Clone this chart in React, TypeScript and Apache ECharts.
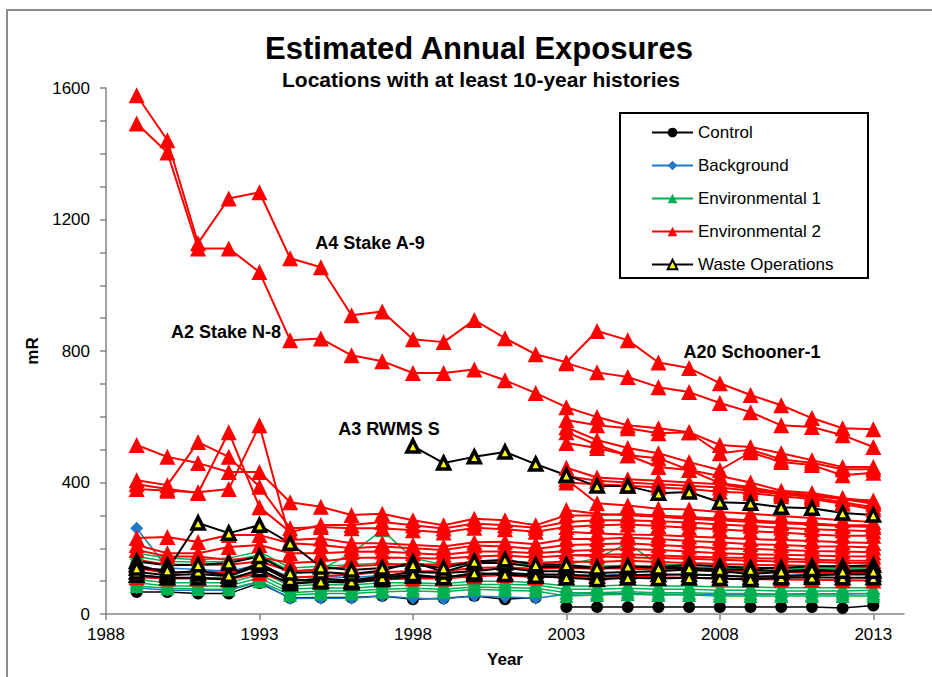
import React, { useEffect, useRef } from "react";
import * as echarts from "echarts";

// ---------- axis categories / ticks ----------
const years = [
  "1988", "1989", "1990", "1991", "1992", "1993", "1994", "1995", "1996",
  "1997", "1998", "1999", "2000", "2001", "2002", "2003", "2004", "2005",
  "2006", "2007", "2008", "2009", "2010", "2011", "2012", "2013", "2014",
];
const yMax = 1600;
const yStep = 400;

// ---------- Control (start year, values) ----------
const control1 = { start: 1989, v: [67, 67, 62, 62, 94, 49, 50, 50, 55, 45, 48, 55, 45, 50] };
const control2 = { start: 2003, v: [21, 21, 21, 21, 21, 21, 21, 21, 21, 18, 26] };

// ---------- Background ----------
const background1 = { start: 1989, v: [261, 140, 135, 130, 150, 112, 115, 110, 118, 112, 112, 122, 120, 118, 118, 118, 120, 118, 120, 118, 115, 118, 120, 122, 122] };
const background2 = { start: 1989, v: [80, 72, 72, 72, 98, 47, 48, 48, 55, 48, 46, 55, 52, 48, 60, 62, 62, 60, 60, 58, 60, 60, 62, 60, 62] };

// ---------- Environmental 1 ----------
const env1a = { start: 1989, v: [120, 110, 110, 110, 130, 85, 90, 88, 95, 95, 92, 100, 100, 95, 85, 85, 88, 85, 85, 82, 82, 80, 80, 80, 80] };
const env1b = { start: 1989, v: [105, 95, 95, 95, 120, 75, 80, 78, 85, 88, 85, 90, 90, 88, 75, 75, 78, 75, 75, 72, 72, 70, 70, 70, 72] };
const env1c = { start: 1989, v: [95, 85, 85, 85, 110, 65, 70, 70, 75, 78, 75, 82, 80, 78, 65, 65, 68, 65, 65, 62, 62, 60, 60, 62, 62] };
const env1d = { start: 1989, v: [85, 78, 76, 75, 100, 58, 62, 62, 68, 70, 68, 75, 72, 70, 55, 58, 60, 58, 58, 55, 55, 55, 55, 55, 55] };
const env1e = { start: 1989, v: [175, 160, 158, 160, 180, 130, 135, 185, 255, 170, 150, 160, 160, 155, 150, 170, 215, 150, 150, 145, 142, 140, 140, 140, 140] };
const env1f = { start: 1989, v: [185, 170, 165, 170, 190, 140, 145, 150, 155, 148, 145, 155, 155, 150, 145, 145, 148, 145, 142, 140, 138, 138, 136, 136, 135] };

// ---------- Environmental 2 ----------
const a4StakeA9 = { start: 1989, v: [1578, 1441, 1128, 1264, 1283, 1082, 1055, 909, 920, 836, 827, 894, 839, 790, 766, 861, 833, 765, 748, 702, 666, 635, 596, 565, 562] };
const a2StakeN8 = { start: 1989, v: [1492, 1404, 1112, 1112, 1040, 833, 838, 787, 769, 733, 733, 744, 711, 672, 629, 599, 574, 565, 553, 514, 508, 489, 468, 447, 447] };
const a20Schooner1 = { start: 2003, v: [763, 735, 721, 690, 675, 642, 614, 574, 569, 544, 508] };
const env2r5 = { start: 2003, v: [590, 574, 565, 550, 553, 489, 500, 470, 460, 440, 440] };
const env2r6 = { start: 2003, v: [568, 529, 505, 489, 462, 438, 492, 462, 453, 422, 430] };
const env2r7 = { start: 2003, v: [553, 514, 483, 474, 438, 398, 386, 368, 360, 350, 345] };
const env2r8 = { start: 2003, v: [520, 505, 483, 447, 438, 420, 400, 375, 368, 353, 340] };
const env2r9 = { start: 2003, v: [445, 415, 410, 405, 400, 395, 380, 370, 362, 350, 335] };
const env2r10 = { start: 2003, v: [420, 405, 400, 395, 390, 385, 375, 365, 355, 340, 325] };
const env2r11 = { start: 2003, v: [410, 337, 330, 320, 318, 310, 305, 298, 292, 285, 280] };
const env2r12 = { start: 2003, v: [400, 395, 390, 385, 380, 372, 368, 358, 350, 335, 318] };
const env2b1 = { start: 1989, v: [514, 478, 459, 432, 432, 340, 326, 301, 305, 285, 270, 290, 285, 270, 300, 300, 305, 300, 295, 290, 285, 280, 275, 270, 270] };
const env2b2 = { start: 1989, v: [407, 392, 523, 478, 387, 261, 265, 261, 261, 255, 248, 262, 258, 250, 265, 270, 272, 268, 262, 258, 252, 248, 242, 238, 238] };
const env2b3 = { start: 1989, v: [395, 380, 368, 553, 325, 249, 271, 271, 280, 270, 260, 275, 270, 262, 280, 285, 285, 282, 278, 272, 268, 262, 258, 255, 252] };
const env2b4 = { start: 1989, v: [380, 375, 370, 380, 574, 225, 230, 215, 215, 210, 205, 218, 220, 212, 228, 228, 232, 228, 222, 218, 212, 210, 206, 205, 202] };
const env2b5 = { start: 1989, v: [231, 234, 219, 240, 240, 215, 210, 200, 205, 200, 195, 208, 205, 198, 210, 212, 215, 210, 205, 200, 198, 195, 192, 190, 188] };
const env2b6 = { start: 1989, v: [210, 185, 185, 204, 210, 185, 185, 189, 190, 185, 180, 190, 190, 185, 192, 195, 198, 195, 190, 185, 182, 180, 178, 176, 175] };
const env2b7 = { start: 1989, v: [195, 175, 175, 164, 173, 155, 160, 170, 172, 170, 168, 175, 178, 172, 178, 180, 182, 178, 175, 172, 170, 168, 165, 163, 162] };
const env2b8 = { start: 1989, v: [165, 150, 150, 150, 160, 130, 135, 145, 150, 152, 150, 158, 160, 155, 160, 158, 162, 158, 155, 152, 150, 148, 146, 144, 143] };
const env2b9 = { start: 1989, v: [140, 125, 130, 125, 145, 110, 115, 120, 128, 130, 130, 140, 142, 138, 140, 138, 142, 140, 136, 134, 132, 130, 128, 126, 125] };
const env2b10 = { start: 1989, v: [112, 108, 108, 105, 125, 95, 98, 98, 105, 108, 108, 115, 118, 112, 115, 112, 115, 112, 110, 108, 106, 105, 104, 103, 102] };
const env2c1 = { start: 2003, v: [316, 305, 300, 296, 290, 285, 280, 276, 272, 268, 265] };
const env2c2 = { start: 2003, v: [250, 245, 242, 240, 236, 232, 228, 225, 222, 218, 216] };
const env2c3 = { start: 2003, v: [180, 176, 172, 170, 168, 165, 162, 160, 158, 156, 155] };
const env2c4 = { start: 2003, v: [143, 140, 138, 135, 133, 130, 130, 128, 125, 125, 123] };

// ---------- Waste Operations ----------
const waste1 = { start: 1989, v: [140, 134, 277, 246, 270, 215, 143, 134, 140, 150, 140, 160, 165, 150, 150, 140, 145, 140, 140, 135, 135, 130, 135, 130, 130] };
const a3RwmsS = { start: 1998, v: [511, 459, 478, 493, 456, 422, 389, 389, 367, 371, 340, 337, 325, 322, 307, 301] };
const waste2 = { start: 1989, v: [160, 148, 150, 155, 175, 125, 128, 122, 132, 158, 128, 155, 155, 143, 143, 140, 143, 143, 149, 145, 140, 140, 145, 145, 148] };
const waste3 = { start: 1989, v: [128, 118, 122, 115, 148, 100, 108, 102, 115, 128, 125, 130, 140, 130, 130, 125, 128, 130, 135, 130, 122, 128, 132, 130, 135] };
const waste4 = { start: 1989, v: [118, 110, 110, 105, 135, 92, 98, 95, 105, 115, 112, 120, 125, 120, 120, 115, 118, 120, 120, 118, 112, 115, 118, 120, 120] };
const waste5 = { start: 1989, v: [150, 125, 130, 118, 155, 105, 100, 100, 110, 120, 110, 125, 120, 115, 110, 105, 110, 108, 110, 108, 105, 110, 112, 110, 110] };

const groups: { name: string; list: { start: number; v: number[] }[] }[] = [
  { name: "Control", list: [control1, control2] },
  { name: "Background", list: [background1, background2] },
  { name: "Environmental 1", list: [env1a, env1b, env1c, env1d, env1e, env1f] },
  {
    name: "Environmental 2",
    list: [
      env2b10, env2b9, env2b8, env2c4, env2b7, env2c3, env2b6, env2b5, env2c2, env2b4,
      env2b2, env2b3, env2c1, env2b1, env2r12, env2r11, env2r10, env2r9, env2r8, env2r7,
      env2r6, env2r5, a20Schooner1, a2StakeN8, a4StakeA9,
    ],
  },
  { name: "Waste Operations", list: [waste4, waste3, waste5, waste2, waste1, a3RwmsS] },
];

const FONT = '"Liberation Sans", Arial, sans-serif';

const styleFor: Record<string, any> = {
  Control: { symbol: "circle", size: 12, fill: "#000000", line: "#000000", lw: 1.5 },
  Background: { symbol: "diamond", size: 13, fill: "#1F78C8", line: "#1F78C8", lw: 1.5 },
  "Environmental 1": { symbol: "triangle", size: 14, fill: "#00B050", line: "#00B050", lw: 1.5 },
  "Environmental 2": { symbol: "triangle", size: 16, fill: "#FF0000", line: "#FF0000", lw: 2 },
  "Waste Operations": { symbol: "triangle", size: 12, fill: "#FFFF00", line: "#000000", lw: 2, border: "#000000", bw: 3.5 },
};

function alignToYears(start: number, v: number[]) {
  return years.map((y) => {
    const i = Number(y) - start;
    return i >= 0 && i < v.length ? v[i] : null;
  });
}

export default function App() {
  const ref = useRef<HTMLDivElement>(null);

  useEffect(() => {
    if (!ref.current) return;
    const chart = echarts.init(ref.current, undefined, { renderer: "svg" });

    const series: any[] = [];
    groups.forEach((g) => {
      const s = styleFor[g.name];
      g.list.forEach((item) => {
        series.push({
          type: "line",
          name: g.name,
          data: alignToYears(item.start, item.v),
          symbol: s.symbol,
          symbolSize: s.size,
          showSymbol: true,
          connectNulls: false,
          silent: true,
          emphasis: { disabled: true },
          lineStyle: { color: s.line, width: s.lw },
          itemStyle: {
            color: s.fill,
            borderColor: s.border || s.fill,
            borderWidth: s.bw || 0,
          },
        });
      });
    });

    const annotation = (text: string, x: number, y: number) => ({
      type: "text",
      x,
      y,
      z: 10,
      style: {
        text,
        fill: "#000",
        font: `bold 18px ${FONT}`,
        textAlign: "center",
        textVerticalAlign: "middle",
        align: "center",
        verticalAlign: "middle",
      },
    });

    chart.setOption({
      animation: false,
      backgroundColor: "#ffffff",
      title: [
        {
          text: "Estimated Annual Exposures",
          left: 474,
          top: 28,
          textAlign: "center",
          textStyle: { fontFamily: FONT, fontSize: 31, fontWeight: "bold", color: "#000" },
        },
        {
          text: "Locations with at least 10-year histories",
          left: 476,
          top: 64,
          textAlign: "center",
          textStyle: { fontFamily: FONT, fontSize: 21, fontWeight: "bold", color: "#000" },
        },
      ],
      grid: { left: 106, right: 28, top: 88, bottom: 63, containLabel: false },
      legend: {
        orient: "vertical",
        left: 646,
        top: 119,
        itemWidth: 41,
        itemHeight: 12,
        itemGap: 16,
        selectedMode: false,
        data: ["Control", "Background", "Environmental 1", "Environmental 2", "Waste Operations"],
        textStyle: { fontFamily: FONT, fontSize: 17, color: "#000" },
      },
      xAxis: {
        type: "category",
        data: years,
        boundaryGap: false,
        name: "Year",
        nameLocation: "middle",
        nameGap: 37,
        nameTextStyle: { fontFamily: FONT, fontSize: 17, fontWeight: "bold", color: "#000" },
        axisLine: { show: true, lineStyle: { color: "#868686", width: 1.5 } },
        axisTick: { show: true, interval: 4, length: 6, lineStyle: { color: "#868686", width: 1.5 } },
        axisLabel: { interval: 4, fontFamily: FONT, fontSize: 17, color: "#000", margin: 12 },
        splitLine: { show: false },
      },
      yAxis: {
        type: "value",
        min: 0,
        max: yMax,
        interval: yStep,
        name: "mR",
        nameLocation: "middle",
        nameGap: 62,
        nameTextStyle: { fontFamily: FONT, fontSize: 17, fontWeight: "bold", color: "#000" },
        axisLine: { show: true, lineStyle: { color: "#868686", width: 1.5 } },
        axisTick: { show: true, length: 6, lineStyle: { color: "#868686", width: 1.5 } },
        minorTick: { show: true, splitNumber: 4, length: 6, lineStyle: { color: "#868686", width: 1.5 } },
        axisLabel: {
          fontFamily: FONT,
          fontSize: 17,
          color: "#000",
          margin: 16,
          formatter: (v: number) => String(v),
        },
        splitLine: { show: false },
        minorSplitLine: { show: false },
      },
      graphic: [
        {
          type: "rect",
          z: -10,
          silent: true,
          shape: { x: 7, y: 10, width: 960, height: 720 },
          style: { fill: "none", stroke: "#8C8C8C", lineWidth: 2 },
        },
        {
          type: "rect",
          z: 0,
          silent: true,
          shape: { x: 620, y: 113, width: 248, height: 165 },
          style: { fill: "#ffffff", stroke: "#000000", lineWidth: 2 },
        },
        annotation("A4 Stake A-9", 370, 243),
        annotation("A2 Stake N-8", 226, 332),
        annotation("A3 RWMS S", 389, 429),
        annotation("A20 Schooner-1", 752, 352),
      ],
      series,
    });

    return () => chart.dispose();
  }, []);

  return (
    <div
      ref={ref}
      style={{ position: "fixed", left: 0, top: 0, width: 932, height: 677, background: "#fff" }}
    />
  );
}
